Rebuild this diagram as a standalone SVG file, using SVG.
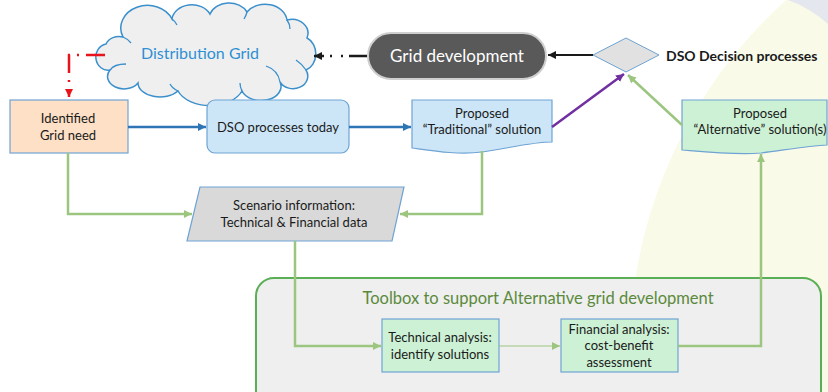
<svg xmlns="http://www.w3.org/2000/svg" width="828" height="392" viewBox="0 0 828 392">
  <style>
    text { font-family: Lato, "Liberation Sans", sans-serif; }
    .lbl { font-size: 13px; fill: #1a1a1a; text-anchor: middle; }
    .box { stroke: #6ea3d4; stroke-width: 1.2; }
    .blue { fill: none; stroke: #2e75b6; stroke-width: 2.5; }
    .green { fill: none; stroke: #9cc67f; stroke-width: 2.5; }
  </style>
  <defs>
    <marker id="ah-blue" markerUnits="userSpaceOnUse" markerWidth="9" markerHeight="9" refX="8" refY="4" orient="auto">
      <path d="M0,0 L8,4 L0,8 Z" fill="#2e75b6"/>
    </marker>
    <marker id="ah-green" markerUnits="userSpaceOnUse" markerWidth="9" markerHeight="9" refX="8" refY="4" orient="auto">
      <path d="M0,0 L8,4 L0,8 Z" fill="#9cc67f"/>
    </marker>
    <marker id="ah-black" markerUnits="userSpaceOnUse" markerWidth="9" markerHeight="9" refX="8" refY="4" orient="auto">
      <path d="M0,0 L8,4 L0,8 Z" fill="#1a1a1a"/>
    </marker>
    <marker id="ah-purple" markerUnits="userSpaceOnUse" markerWidth="9" markerHeight="9" refX="8" refY="4" orient="auto">
      <path d="M0,0 L8,4 L0,8 Z" fill="#7030a0"/>
    </marker>
    <marker id="ah-red" markerUnits="userSpaceOnUse" markerWidth="9" markerHeight="9" refX="8" refY="4" orient="auto">
      <path d="M0,0 L8,4 L0,8 Z" fill="#e8141b"/>
    </marker>
  </defs>

  <!-- background -->
  <rect x="0" y="0" width="828" height="392" fill="#ffffff"/>
  <circle cx="1100" cy="350" r="470" fill="#fafae9"/>
  <path d="M788,0 Q810,8 828,24 V0 Z" fill="#e5e7ee"/>

  <!-- toolbox container -->
  <g id="toolbox">
    <rect x="256" y="278" width="565" height="140" rx="18" fill="#efefef" stroke="#5aae55" stroke-width="2"/>
    <text x="538" y="304" text-anchor="middle" font-size="16.5" fill="#5b8a3c">Toolbox to support Alternative grid development</text>
  </g>

  <g id="distribution-grid">
    <path d="M106,44 A14,12 0 0 1 123,37 A26,22 0 0 1 172,19 A20,16 0 0 1 210,14 A20,16 0 0 1 247,12 A22,18 0 0 1 287,20 A16,14 0 0 1 307,38 A14,17 0 0 1 306,70 A14,12 0 0 1 280,82 A20,14 0 0 1 242,91 A34,22 0 0 1 178,91 A22,14 0 0 1 138,83 A16,12 0 0 1 110,70 A12,13 0 0 1 106,44 Z" fill="#efefef" stroke="#3a8fcc" stroke-width="1.5"/>
    <path d="M110,70 Q114,64 126,64 M123,37 Q128,39 131,43 M172,19 Q175,21 177,25 M247,12 Q246,16 244,19 M287,20 Q290,24 290,29 M306,70 Q302,64 296,60 M280,82 Q278,70 266,66 M242,91 Q240,87 240,83 M178,91 Q172,88 170,84" fill="none" stroke="#3a8fcc" stroke-width="1.3"/>
    <text x="200" y="59" text-anchor="middle" font-size="16" fill="#2f8fd3">Distribution Grid</text>
  </g>

  <g id="grid-development">
    <rect x="368" y="33" width="178" height="46" rx="23" fill="#595959" stroke="#cfcfcf" stroke-width="2"/>
    <text x="457" y="62" text-anchor="middle" font-size="17" fill="#ffffff">Grid development</text>
  </g>

  <g id="dso-decision">
    <polygon points="593,55 626,38 659,55 626,72" fill="#e1e1e1" stroke="#6ea3d4" stroke-width="1"/>
    <text x="666" y="61" font-size="14" font-weight="bold" fill="#1a1a1a">DSO Decision processes</text>
  </g>

  <g id="identified-need">
    <rect class="box" x="10" y="100" width="118" height="53" fill="#fde0c5"/>
    <text class="lbl" x="68" y="123">Identified</text>
    <text class="lbl" x="68" y="140">Grid need</text>
  </g>

  <g id="dso-today">
    <rect class="box" x="207" y="100" width="142" height="53" rx="8" fill="#cce6f8"/>
    <text class="lbl" x="278" y="132">DSO processes  today</text>
  </g>

  <g id="traditional">
    <path class="box" d="M412,100 H552 V142 C530,142 506,149 482,152 C458,155 434,151 412,148 Z" fill="#cce6f8"/>
    <text class="lbl" x="482" y="118">Proposed</text>
    <text class="lbl" x="482" y="134">“Traditional”  solution</text>
  </g>

  <g id="alternative">
    <path class="box" d="M682,100 H827 V145 C808,146 785,150 761,153 C735,155 706,152 682,150 Z" fill="#cdf1d5"/>
    <text class="lbl" x="760" y="118">Proposed</text>
    <text class="lbl" x="760" y="134">“Alternative” solution(s)</text>
  </g>

  <g id="scenario">
    <polygon class="box" points="200,187 404,187 392,241 187,241" fill="#d9d9d9"/>
    <text class="lbl" x="294" y="210">Scenario information:</text>
    <text class="lbl" x="294" y="227">Technical &amp; Financial data</text>
  </g>

  <g id="technical">
    <rect class="box" x="382" y="319" width="117" height="53" fill="#cdf1d5"/>
    <text class="lbl" x="440" y="342">Technical analysis:</text>
    <text class="lbl" x="440" y="359">identify solutions</text>
  </g>

  <g id="financial">
    <rect class="box" x="561" y="319" width="117" height="53" fill="#cdf1d5"/>
    <text class="lbl" x="619" y="334">Financial analysis:</text>
    <text class="lbl" x="619" y="350">cost-benefit</text>
    <text class="lbl" x="619" y="367">assessment</text>
  </g>

  <g id="connectors">
    <path d="M105,55 H69 V97" fill="none" stroke="#e8141b" stroke-width="2.5" stroke-dasharray="19 7 2 7" marker-end="url(#ah-red)"/>
    <path d="M367,56 H314" fill="none" stroke="#1a1a1a" stroke-width="2.5" stroke-dasharray="18 6 2 9 2 6 20" marker-end="url(#ah-black)"/>
    <path d="M593,55 H548" fill="none" stroke="#1a1a1a" stroke-width="2" marker-end="url(#ah-black)"/>
    <path d="M552,127 L624,74" fill="none" stroke="#7030a0" stroke-width="2.5" marker-end="url(#ah-purple)"/>
    <path class="green" d="M682,125 L628,75" marker-end="url(#ah-green)"/>
    <path class="blue" d="M128,127 H206" marker-end="url(#ah-blue)"/>
    <path class="blue" d="M349,127 H411" marker-end="url(#ah-blue)"/>
    <path class="green" d="M68,153 V214 H192" marker-end="url(#ah-green)"/>
    <path class="green" d="M482,151 V214 H400" marker-end="url(#ah-green)"/>
    <path class="green" d="M295,241 V346 H381" marker-end="url(#ah-green)"/>
    <path d="M499,346 H560" fill="none" stroke="#9cc67f" stroke-width="1.2" marker-end="url(#ah-green)"/>
    <path class="green" d="M678,346 H761 V154" marker-end="url(#ah-green)"/>
  </g>
</svg>
